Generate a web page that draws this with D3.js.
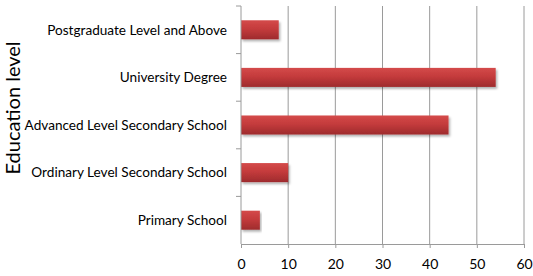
<!DOCTYPE html>
<html>
<head>
<meta charset="utf-8">
<script src="https://cdn.jsdelivr.net/npm/d3@7"></script>
<style>
  body { margin: 0; background: #fff; }
  svg { display: block; font-family: Lato, "Open Sans", sans-serif; }
</style>
</head>
<body>
<div id="chart"></div>
<script>
const categories = ["Postgraduate Level and Above", "University Degree", "Advanced Level Secondary School", "Ordinary Level Secondary School", "Primary School"];
const values = [8, 54, 44, 10, 4];
const xTicks = [0, 10, 20, 30, 40, 50, 60];

const W = 533, H = 276;
const margin = { top: 6, right: 9, bottom: 32, left: 241 };
const width = W - margin.left - margin.right;
const height = H - margin.top - margin.bottom;

const svg = d3.select("#chart").append("svg")
  .attr("width", W)
  .attr("height", H);

const defs = svg.append("defs");
const grad = defs.append("linearGradient")
  .attr("id", "barGrad")
  .attr("x1", 0).attr("y1", 0).attr("x2", 0).attr("y2", 1);
grad.append("stop").attr("offset", "0%").attr("stop-color", "#d44a4a");
grad.append("stop").attr("offset", "45%").attr("stop-color", "#c43b3c");
grad.append("stop").attr("offset", "100%").attr("stop-color", "#9e2b2d");
const shadow = defs.append("filter").attr("id", "shadow")
  .attr("x", "-5%").attr("y", "-20%").attr("width", "115%").attr("height", "160%");
shadow.append("feDropShadow")
  .attr("dx", 1.5).attr("dy", 2).attr("stdDeviation", 1.2)
  .attr("flood-color", "#000").attr("flood-opacity", 0.3);

const g = svg.append("g")
  .attr("transform", `translate(${margin.left},${margin.top})`);

const x = d3.scaleLinear().domain([0, 60]).range([0, width]);
const y = d3.scaleBand().domain(categories).range([0, height]).paddingInner(0.6).paddingOuter(0.3);
const yBand = d3.scaleBand().domain(categories).range([0, height]);

// gridlines
g.append("g")
  .selectAll("line")
  .data(xTicks.slice(1))
  .join("line")
  .attr("x1", d => x(d)).attr("x2", d => x(d))
  .attr("y1", 0).attr("y2", height)
  .attr("stroke", "#9a9a9a")
  .attr("stroke-width", 1);

// bars
g.append("g")
  .selectAll("rect")
  .data(categories)
  .join("rect")
  .attr("x", x(0))
  .attr("y", d => y(d))
  .attr("width", (d, i) => x(values[i]) - x(0))
  .attr("height", y.bandwidth())
  .attr("fill", "url(#barGrad)")
  .attr("filter", "url(#shadow)");

// x axis
const xAxis = g.append("g")
  .attr("transform", `translate(0,${height})`)
  .call(d3.axisBottom(x).tickValues(xTicks).tickSize(4).tickPadding(11));
xAxis.select(".domain").attr("stroke", "#9a9a9a");
xAxis.selectAll(".tick line").attr("stroke", "#9a9a9a");
xAxis.selectAll("text").attr("font-size", 14).attr("fill", "#000")
  .attr("font-family", "Lato, 'Open Sans', sans-serif");

// y axis: ticks at band boundaries
const yAxis = g.append("g");
yAxis.append("line")
  .attr("x1", 0).attr("x2", 0).attr("y1", 0).attr("y2", height)
  .attr("stroke", "#9a9a9a");
yAxis.selectAll("line.tk")
  .data(categories)
  .join("line")
  .attr("class", "tk")
  .attr("x1", -5).attr("x2", 0)
  .attr("y1", d => yBand(d)).attr("y2", d => yBand(d))
  .attr("stroke", "#9a9a9a");
yAxis.selectAll("text")
  .data(categories)
  .join("text")
  .attr("x", -14)
  .attr("y", d => yBand(d) + yBand.bandwidth() / 2)
  .attr("dy", "0.35em")
  .attr("text-anchor", "end")
  .attr("font-size", 13.6)
  .attr("fill", "#000")
  .text(d => d);

// axis title
svg.append("text")
  .attr("transform", `translate(20,108) rotate(-90)`)
  .attr("text-anchor", "middle")
  .attr("font-size", 20)
  .attr("fill", "#000")
  .text("Education level");
</script>
</body>
</html>
